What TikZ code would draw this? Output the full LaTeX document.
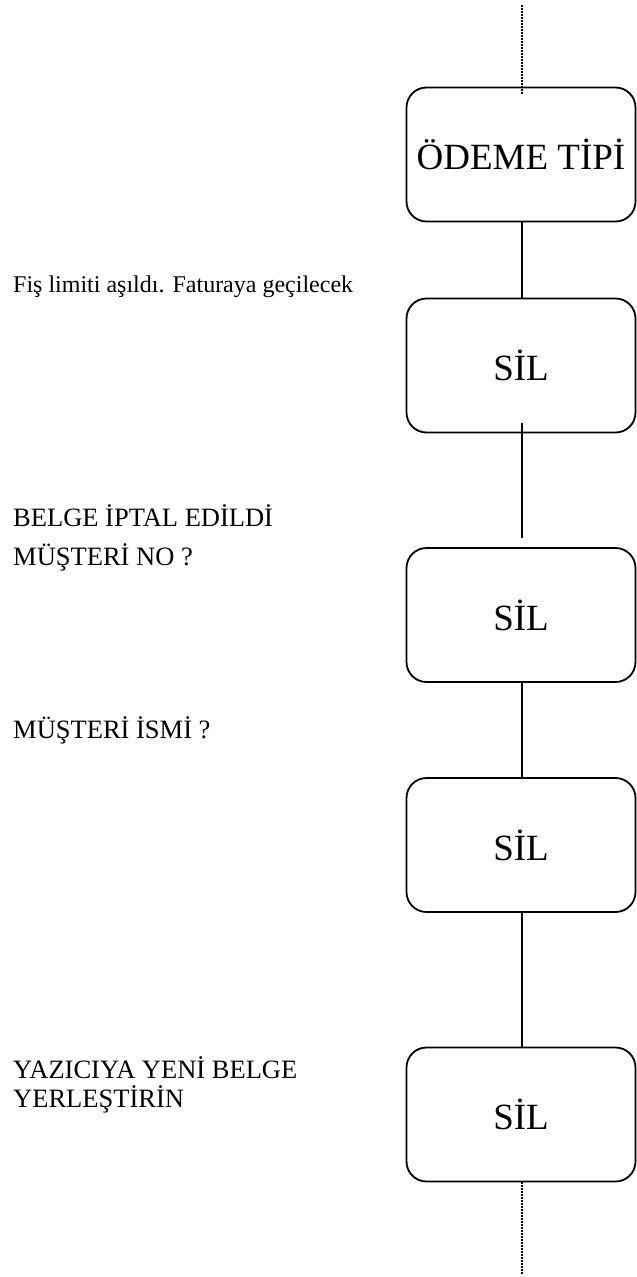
\documentclass[tikz,border=0pt]{standalone}
\usepackage{fontspec}
\setmainfont{Liberation Serif}
\begin{document}
\begin{tikzpicture}[x=1pt,y=-1pt,
  boxnode/.style={draw, line width=1.8pt, rounded corners=20pt, minimum width=229pt, minimum height=134pt, inner sep=0pt, font=\fontsize{37}{40}\selectfont},
  conn/.style={line width=1.8pt},
  dotconn/.style={line width=1.9pt, dash pattern=on 1.5pt off 1.5pt},
  lbl/.style={anchor=base west, inner sep=0pt, font=\fontsize{26.5}{29}\selectfont, align=left}]
\useasboundingbox (0,0) rectangle (637,1277);
\node[boxnode] (b1) at (521,154.5) {ÖDEME TİPİ};
\node[boxnode] (b2) at (521,365.5) {SİL};
\node[boxnode] (b3) at (521,615) {SİL};
\node[boxnode] (b4) at (521,845) {SİL};
\node[boxnode] (b5) at (521,1114.5) {SİL};
\coordinate (top) at (522,5);
\coordinate (bot) at (522,1275);
\draw[dotconn] (top) -- ([yshift=-7pt]b1.north -| top);
\draw[conn] (b1.south -| top) -- (b2.north -| top);
\draw[conn] ([yshift=10pt]b2.south -| top) -- ([yshift=9pt]b3.north -| top);
\draw[conn] (b3.south -| top) -- (b4.north -| top);
\draw[conn] (b4.south -| top) -- (b5.north -| top);
\draw[dotconn] (b5.south -| bot) -- (bot);
\node[lbl, font=\fontsize{24}{27}\selectfont] (t1) at (13,292) {Fiş limiti aşıldı. Faturaya geçilecek};
\node[lbl] (t2) at (13,526) {BELGE İPTAL EDİLDİ};
\node[lbl] (t3) at (13,565) {MÜŞTERİ NO ?};
\node[lbl] (t4) at (13,738) {MÜŞTERİ İSMİ ?};
\node[lbl] (t5) at (13,1107) {YAZICIYA YENİ BELGE\\YERLEŞTİRİN};
\end{tikzpicture}
\end{document}
